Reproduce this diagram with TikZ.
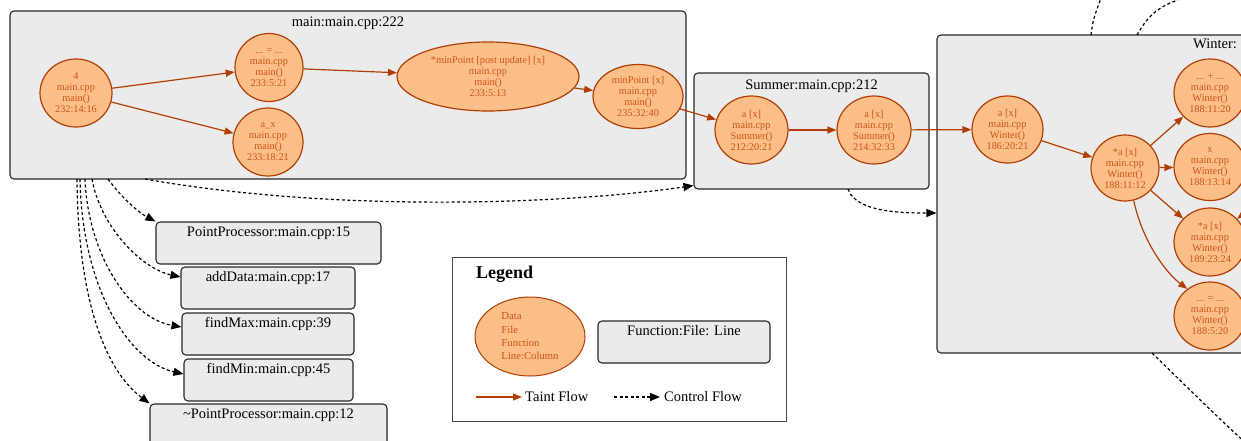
\documentclass[tikz,border=0pt]{standalone}
\usepackage{fontspec}
\setmainfont{Liberation Serif}
\usetikzlibrary{shapes.geometric,arrows.meta}
\definecolor{clfill}{RGB}{235,235,235}
\definecolor{clline}{RGB}{40,40,40}
\definecolor{tfill}{RGB}{252,190,135}
\definecolor{tline}{RGB}{178,62,4}
\definecolor{ttext}{RGB}{200,84,24}
\begin{document}
\begin{tikzpicture}[x=1pt,y=-1pt,
 cluster/.style={draw=clline, fill=clfill, line width=1.1pt, rounded corners=4pt, inner sep=0pt},
 ctitle/.style={font=\fontsize{14.5}{16}\selectfont, inner sep=0pt},
 tnode/.style={ellipse, draw=tline, fill=tfill, line width=1.2pt, text=ttext, font=\fontsize{10.3}{11}\selectfont, align=center, inner sep=0pt},
 fbox/.style={draw=clline, fill=clfill, line width=1.1pt, rounded corners=4pt, font=\fontsize{14.5}{16}\selectfont, text height=10pt, text depth=24pt, inner ysep=4pt, inner xsep=0pt, minimum height=42pt},
 taint/.style={draw=tline, line width=1.2pt, -{Triangle[length=9pt,width=7pt]}},
 ctrlline/.style={draw=black, line width=1.2pt, dash pattern=on 3pt off 2.5pt},
 ctrl/.style={ctrlline, -{Triangle[length=10pt,width=8pt]}},
]
\useasboundingbox (0,0) rectangle (1241,440);
\clip (0,0) rectangle (1241,440);
\fill[white] (0,0) rectangle (1241,440);

% clusters
\node[cluster, minimum width=676pt, minimum height=168pt] (mainC) at (348,95) {};
\node[ctitle] (mainT) at (348,23) {main:main.cpp:222};
\node[cluster, minimum width=235pt, minimum height=116pt] (sumC) at (811.5,131) {};
\node[ctitle] (sumT) at (811.5,86) {Summer:main.cpp:212};
\node[cluster, minimum width=638pt, minimum height=318pt] (winC) at (1256,194) {};
\node[ctitle, anchor=west] (winT) at (1193,44) {Winter:};

% function boxes
\node[fbox, minimum width=225pt] (pp) at (268.5,243) {PointProcessor:main.cpp:15};
\node[fbox, minimum width=174pt] (ad) at (268,288) {addData:main.cpp:17};
\node[fbox, minimum width=172pt] (fmax) at (268,334) {findMax:main.cpp:39};
\node[fbox, minimum width=169pt] (fmin) at (268.5,380) {findMin:main.cpp:45};
\node[fbox, minimum width=237pt] (dpp) at (268.5,425) {\textasciitilde PointProcessor:main.cpp:12};

% taint nodes
\node[tnode, minimum width=72pt, minimum height=68pt] (n4) at (76,93) {4\\main.cpp\\main()\\232:14:16};
\node[tnode, minimum width=68pt, minimum height=68pt] (neq) at (269,67.5) {... = ...\\main.cpp\\main()\\233:5:21};
\node[tnode, minimum width=70pt, minimum height=68pt] (nax) at (268,142) {a\_x\\main.cpp\\main()\\233:18:21};
\node[tnode, minimum width=182pt, minimum height=69pt, inner xsep=-5pt] (nmp) at (488,76.5) {*minPoint [post update] [x]\\main.cpp\\main()\\233:5:13};
\node[tnode, minimum width=90pt, minimum height=64pt] (nmt) at (638,96.5) {minPoint [x]\\main.cpp\\main()\\235:32:40};
\node[tnode, minimum width=73pt, minimum height=68pt] (s1) at (751.5,130) {a [x]\\main.cpp\\Summer()\\212:20:21};
\node[tnode, minimum width=74pt, minimum height=68pt] (s2) at (874,130) {a [x]\\main.cpp\\Summer()\\214:32:33};
\node[tnode, minimum width=71pt, minimum height=67pt] (w1) at (1007.5,129.5) {a [x]\\main.cpp\\Winter()\\186:20:21};
\node[tnode, minimum width=68pt, minimum height=66pt] (w2) at (1125,168) {*a [x]\\main.cpp\\Winter()\\188:11:12};
\node[tnode, minimum width=72pt, minimum height=68pt] (w3) at (1210,93) {... + ...\\main.cpp\\Winter()\\188:11:20};
\node[tnode, minimum width=72pt, minimum height=67pt] (w4) at (1210,167) {x\\main.cpp\\Winter()\\188:13:14};
\node[tnode, minimum width=72pt, minimum height=68pt] (w5) at (1210,242) {*a [x]\\main.cpp\\Winter()\\189:23:24};
\node[tnode, minimum width=72pt, minimum height=68pt] (w6) at (1210,316) {... = ...\\main.cpp\\Winter()\\188:5:20};

% taint edges
\draw[taint] (n4) -- (neq);
\draw[taint] (n4) -- (nax);
\draw[taint] (neq) -- (nmp);
\draw[taint] (nmp) -- (nmt);
\draw[taint] (nmt) -- (s1);
\draw[taint] (s1) -- (s2);
\draw[taint] (s2) -- (w1);
\draw[taint] (w1) -- (w2);
\draw[taint] (w2) -- (w3);
\draw[taint] (w2) -- (w4);
\draw[taint] (w2) -- (w5);
\draw[taint] (w2.-75) .. controls (1142,240) and (1165,272) .. (w6.130);
\coordinate (e11) at (1262,198);
\draw[taint] (e11) -- (w5);

% control edges
\coordinate (c1) at (108,179);
\coordinate (c2) at (92,179);
\coordinate (c3) at (85,179);
\coordinate (c4) at (80,179);
\coordinate (c5) at (77,179);
\coordinate (c6) at (145,179);
\coordinate (c7) at (848,189);
\coordinate (c8) at (1091,35);
\coordinate (e8) at (1101,-2);
\coordinate (c9) at (1137,35);
\coordinate (e9) at (1178,0);
\coordinate (c10) at (1152,353);
\coordinate (e10) at (1248,445);
\draw[ctrl] (c1) .. controls (122,198) and (138,212) .. (pp.north west);
\draw[ctrl] (c2) .. controls (100,225) and (140,268) .. ([yshift=11pt]ad.west);
\draw[ctrl] (c3) .. controls (88,255) and (130,318) .. ([yshift=7pt]fmax.west);
\draw[ctrl] (c4) .. controls (82,290) and (130,362) .. ([yshift=6pt]fmin.west);
\draw[ctrl] (c5) .. controls (78,300) and (105,370) .. (dpp.north west);
\draw[ctrl] (c6) .. controls (330,212) and (560,205) .. ([yshift=4pt]sumC.south west);
\draw[ctrl] (c7) .. controls (856,212) and (900,213) .. ([yshift=-19pt]winC.west);
\draw[ctrlline] (c8) .. controls (1093,20) .. (e8);
\draw[ctrlline] (c9) .. controls (1148,15) and (1160,6) .. (e9);
\draw[ctrlline] (c10) .. controls (1185,385) and (1215,415) .. (e10);

% legend
\node[draw=clline!85, line width=1pt, minimum width=334pt, minimum height=164pt, inner sep=0pt] (leg) at (619,339) {};
\node[font=\bfseries\fontsize{18}{20}\selectfont, anchor=west, inner sep=0pt] (legT) at (476,274) {Legend};
\node[tnode, minimum width=110pt, minimum height=79pt, font=\fontsize{10.7}{13.3}\selectfont, align=left, line width=1pt] (legE) at (530,336.5) {Data\\File\\Function\\Line:Column};
\node[fbox, minimum width=172pt] (legB) at (684,342) {Function:File: Line};
\node[anchor=west, inner sep=0pt, font=\fontsize{14.5}{16}\selectfont] (legTF) at (525,397) {Taint Flow};
\node[anchor=west, inner sep=0pt, font=\fontsize{14.5}{16}\selectfont] (legCF) at (664,397) {Control Flow};
\coordinate (lt0) at (476,397);
\coordinate (lc0) at (614,397);
\draw[taint, shorten >=3pt] (lt0) -- (legTF.west);
\draw[ctrl, shorten >=4pt] (lc0) -- (legCF.west);
\end{tikzpicture}
\end{document}
